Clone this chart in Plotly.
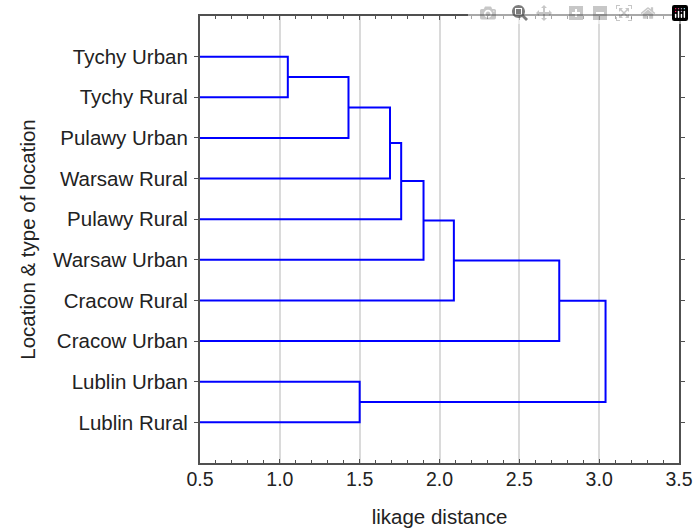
import plotly.graph_objects as go

leaves = ["Tychy Urban", "Tychy Rural", "Pulawy Urban", "Warsaw Rural", "Pulawy Rural",
          "Warsaw Urban", "Cracow Rural", "Cracow Urban", "Lublin Urban", "Lublin Rural"]
# linkage: (cluster a, cluster b, distance); new cluster ids start at len(leaves)
link_a = [0, 10, 11, 12, 13, 14, 15, 8, 16]
link_b = [1, 2, 3, 4, 5, 6, 7, 9, 17]
link_h = [1.05, 1.43, 1.69, 1.76, 1.90, 2.09, 2.75, 1.50, 3.04]
x_ticks = [0.5, 1.0, 1.5, 2.0, 2.5, 3.0, 3.5]

pos = {i: (0.0, i + 1) for i in range(len(leaves))}
xs, ys = [], []
for k, (a, b, h) in enumerate(zip(link_a, link_b, link_h)):
    xa, ya = pos[a]
    xb, yb = pos[b]
    xs += [xa, h, h, xb, None]
    ys += [ya, ya, yb, yb, None]
    pos[len(leaves) + k] = (h, (ya + yb) / 2)

fig = go.Figure()
fig.add_trace(go.Scatter(x=xs, y=ys, mode="lines",
                         line=dict(color="#0000ff", width=2),
                         hoverinfo="skip", showlegend=False))

font = dict(family="Liberation Sans, Arial, sans-serif", color="#222222")
fig.update_layout(
    width=694, height=532,
    margin=dict(l=200, r=15, t=16, b=69),
    paper_bgcolor="white", plot_bgcolor="white",
    font=dict(**font, size=20),
    xaxis=dict(range=[0.5, 3.5], tickvals=x_ticks,
               ticktext=[f"{v:.1f}" for v in x_ticks], automargin=False,
               showgrid=True, gridcolor="#dadada", gridwidth=1.5,
               zeroline=False, showline=True, linecolor="#505050", linewidth=2,
               mirror="ticks", ticks="inside", ticklen=4, tickcolor="#505050",
               minor=dict(dtick=0.1, ticks="inside", ticklen=3, tickcolor="#505050", showgrid=False),
               tickfont=dict(size=19.5), ticklabelstandoff=-2, ticklabeloverflow="allow",
               title=dict(text="likage distance", font=dict(size=20.5), standoff=20)),
    yaxis=dict(range=[11, 0], tickvals=list(range(1, len(leaves) + 1)), ticktext=leaves,
               automargin=False,
               showgrid=False, zeroline=False, showline=True, linecolor="#505050", linewidth=2,
               mirror="ticks", ticks="outside", ticklen=4, tickcolor="#505050",
               tickfont=dict(size=20.5), ticklabelstandoff=2,
               title=dict(text="Location &amp; type of location", font=dict(size=20.5), standoff=12)),
)
# remove the page's default 8px body margin so the figure fills the window exactly
fig.write_html("out.html",
               post_script="document.body.style.margin='0';"
                           "document.documentElement.style.overflow='hidden';")
